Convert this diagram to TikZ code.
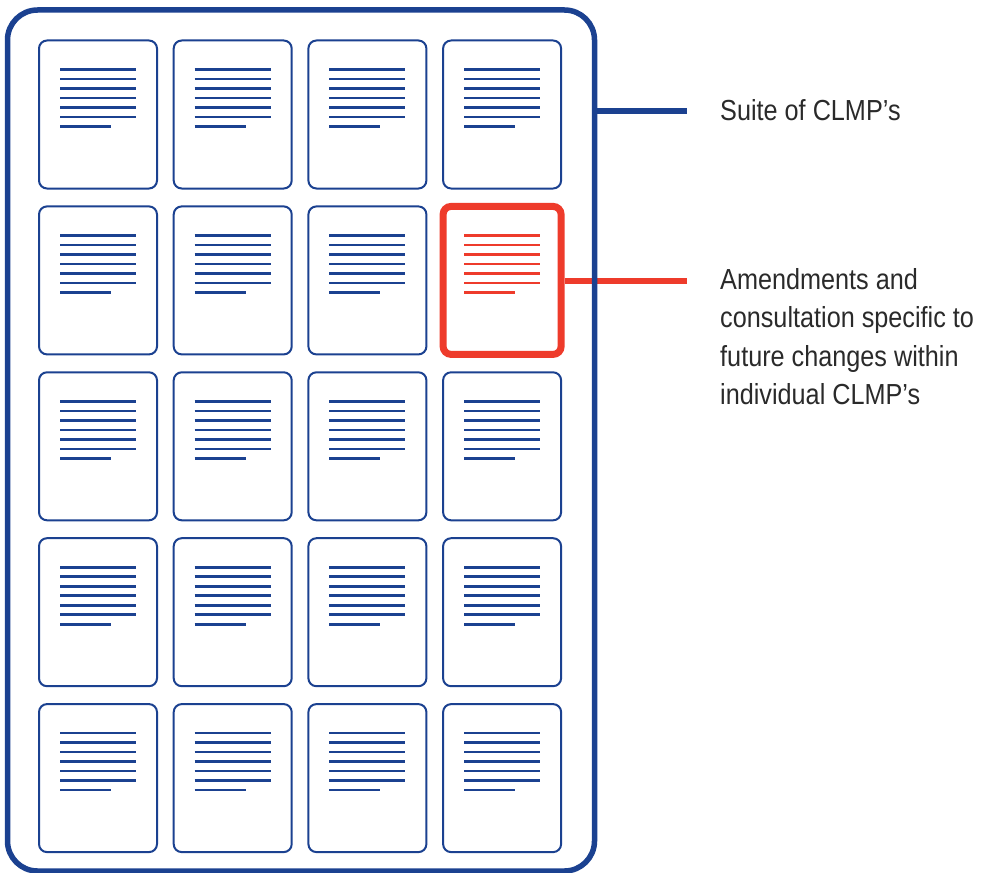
\documentclass[tikz,border=0pt]{standalone}
\usepackage{fontspec}
\setmainfont{Liberation Sans}[FakeStretch=0.87]
\usetikzlibrary{positioning, calc}
\definecolor{clBlue}{HTML}{1B4190}
\definecolor{clRed}{HTML}{EE3B2B}
\definecolor{clText}{HTML}{2A2A2A}

\begin{document}
\begin{tikzpicture}[
  x=1pt, y=-1pt,
  doc/.style={rectangle, draw=clBlue, line width=2pt, rounded corners=8pt, fill=white, minimum width=118pt, minimum height=148pt, inner sep=0pt},
  hot/.style={doc, draw=clRed, line width=7pt},
  doc line/.style={clBlue, line width=2.6pt},
  hot line/.style={clRed, line width=2.6pt},
  frame/.style={rectangle, draw=clBlue, line width=5.5pt, rounded corners=30pt, minimum width=587pt, minimum height=861pt, inner sep=0pt},
  con/.style={clBlue, line width=5.5pt},
  hotcon/.style={clRed, line width=5.5pt},
  lbl/.style={font=\fontsize{29}{38.5}\selectfont, text=clText, align=left, inner sep=0pt}]
  \useasboundingbox (0,0) rectangle (987,872);
  % grid of plans
  \foreach \r in {1,...,5}
    \foreach \c in {1,...,4} {
      \ifnum\r\c=24 \def\kind{hot}\else\def\kind{doc}\fi
      \node[\kind] (d-\r-\c) at ({98+134.7*(\c-1)}, {114.5+165.9*(\r-1)}) {};
      \foreach \k in {0,...,5}
        \draw[\kind\space line] ([shift={(-38,-45+9.5*\k)}]d-\r-\c.center) -- ++(76,0);
      \draw[\kind\space line] ([shift={(-38,12)}]d-\r-\c.center) -- ++(51,0);
    }
  \coordinate (hotEnd) at (687,281);
  \draw[hotcon] (d-2-4.east |- hotEnd) -- (hotEnd);
  % the suite
  \node[frame] (suite) at (301,440.5) {};
  \coordinate (suiteEnd) at (687,111);
  \draw[con] (suite.east |- suiteEnd) -- (suiteEnd);
  \node[lbl, anchor=base west] (suiteTxt) at (720,121) {Suite of CLMP’s};
  \node[lbl, anchor=base west] (hotTxt) at (720,404.5) {Amendments and\\consultation specific to\\future changes within\\individual CLMP’s};
\end{tikzpicture}
\end{document}
